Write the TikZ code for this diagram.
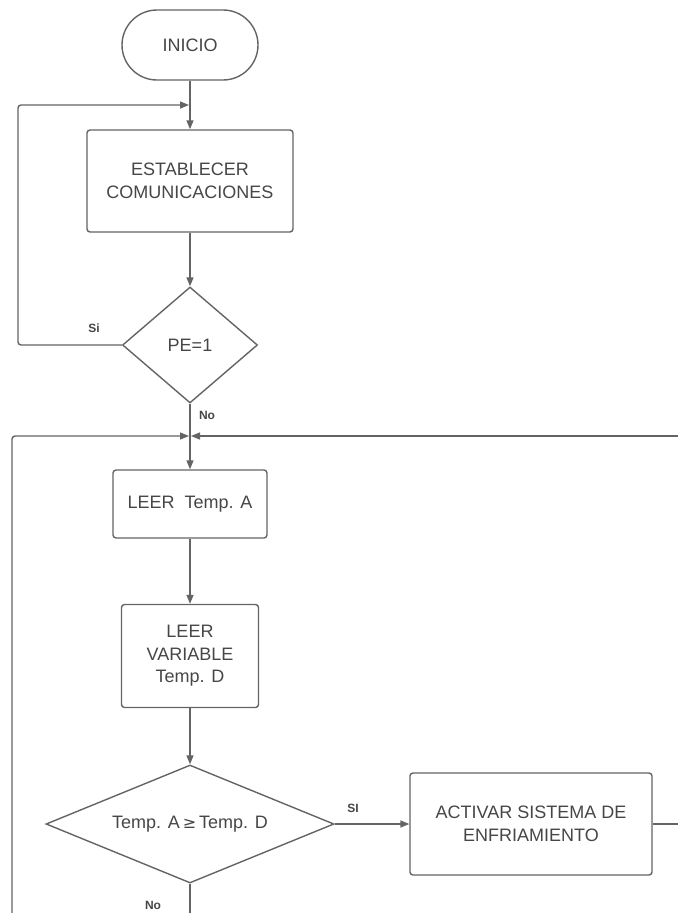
\documentclass[tikz,border=0pt]{standalone}
\usepackage{fontspec}
\setmainfont{Liberation Sans}
\usetikzlibrary{shapes.geometric,arrows.meta}
\definecolor{ln}{RGB}{100,100,100}
\definecolor{tx}{RGB}{70,70,70}
\begin{document}
\begin{tikzpicture}[x=1pt,y=-1pt,
  every node/.style={text=tx,font=\fontsize{18}{22.5}\selectfont},
  boxx/.style={draw=ln,line width=1.4pt,rounded corners=3pt,align=center,inner sep=0pt},
  dia/.style={draw=ln,line width=1.4pt,diamond,inner sep=0pt},
  lbl/.style={font=\fontsize{12}{14}\selectfont\bfseries,text=tx},
  conn/.style={draw=ln,line width=1.4pt},
  arr/.style={conn,-{Triangle[length=9pt,width=7pt]}}]
\useasboundingbox (0,0) rectangle (678,913);
% nodes
\node[boxx,rounded corners=35pt,minimum width=136pt,minimum height=70pt] (inicio) at (190,45) {INICIO};
\node[boxx,minimum width=206pt,minimum height=102pt] (est) at (190,181) {ESTABLECER\\COMUNICACIONES};
\node[dia,minimum width=135pt,minimum height=116pt] (pe) at (190,345) {};
\node at (190,345) {PE=1};
\coordinate (j1) at (190,105);
\coordinate (j2) at (190,436);
\node[boxx,minimum width=154pt,minimum height=68pt] (leera) at (190,504) {LEER\ \ Temp. A};
\node[boxx,minimum width=137pt,minimum height=103pt] (leerd) at (190,656) {LEER\\VARIABLE\\Temp. D};
\node[dia,minimum width=288pt,minimum height=118pt] (cmp) at (190,824) {};
\node at (190,824) {Temp. A\,{\fontspec{DejaVu Sans}\fontsize{16}{22}\selectfont≥}\,Temp. D};
\node[boxx,minimum width=242pt,minimum height=102pt] (act) at (531,824) {ACTIVAR SISTEMA DE\\ENFRIAMIENTO};
\coordinate (lt1) at (18,345);
\coordinate (lt2) at (18,105);
\coordinate (lb1) at (12,913);
\coordinate (lb2) at (12,436);
\coordinate (re1) at (678,436);
\coordinate (re2) at (678,824);
\coordinate (bot) at (190,913);
% connectors
\draw[conn] (inicio.south) -- (j1);
\draw[arr] (j1) -- (est.north);
\draw[arr] (est.south) -- (pe.north);
\draw[arr,rounded corners=3pt] (pe.west) -- (lt1) -- (lt2) -- ([xshift=-1pt]j1);
\draw[conn] (pe.south) -- (j2);
\draw[arr] (j2) -- (leera.north);
\draw[arr,rounded corners=3pt] (lb1) -- (lb2) -- ([xshift=-1pt]j2);
\draw[arr] (re1) -- ([xshift=1pt]j2);
\draw[arr] (leera.south) -- (leerd.north);
\draw[arr] (leerd.south) -- (cmp.north);
\draw[arr] (cmp.east) -- (act.west);
\draw[conn] (act.east) -- (re2);
\draw[conn] (cmp.south) -- (bot);
% labels
\node[lbl] (lsi1) at (94,328) {Si};
\node[lbl] (lno1) at (207,415) {No};
\node[lbl] (lsi2) at (353,808) {SI};
\node[lbl] (lno2) at (153,905) {No};
\end{tikzpicture}
\end{document}
